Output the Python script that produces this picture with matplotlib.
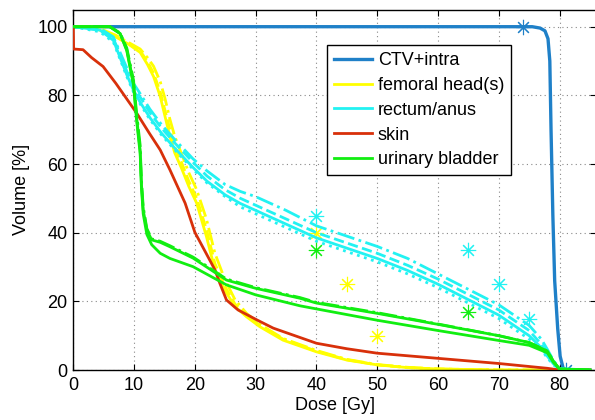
import numpy as np
import matplotlib
matplotlib.use("Agg")
import matplotlib.pyplot as plt

plt.rcParams['font.family'] = ['Liberation Sans', 'DejaVu Sans']

# CTV+intra
ctv_dose = [0, 75.5, 76.8, 77.6, 78.1, 78.4, 78.6, 78.9, 79.2, 79.7, 80.1, 80.6, 81, 85]
ctv_vol = [100, 100, 99.6, 98.8, 96.5, 90, 70, 45, 26, 12, 4, 0.5, 0, 0]
ctv_mark_dose = [74, 81]
ctv_mark_vol = [100, 0]

# femoral head(s)
fem_dose = [0, 3, 5, 7, 9, 11, 12.2, 13.2, 14.3, 15.1, 15.9, 16.7, 17.8, 19, 20.3,
            21.9, 23.3, 24.9, 26.6, 28.5, 30.7, 34.5, 40, 45, 50, 55, 60, 70, 85]
fem_vol_a = [100, 100, 98.5, 97, 95, 92.5, 89, 85.5, 79.7, 73.8, 68, 63.2, 58.8, 53.5, 48.6,
             38.9, 29.2, 23.3, 18.5, 15.5, 12.6, 8.7, 5.3, 2.9, 1.5, 0.7, 0.3, 0, 0]
fem_vol_b = [100, 100, 98.7, 97.2, 95.3, 93, 89.8, 86.5, 81, 75.5, 70, 65, 60.5, 55, 50,
             41, 31, 24.5, 19.2, 16, 13, 9, 5.5, 3, 1.5, 0.7, 0.3, 0, 0]
fem_vol_c = [100, 100, 99, 97.5, 95.5, 93.5, 91, 88.5, 84, 79, 73, 68, 63, 57.5, 52.5,
             44, 34, 26.5, 20.5, 16.5, 13.3, 9.2, 5.7, 3.1, 1.6, 0.8, 0.3, 0, 0]
fem_mark_dose = [40, 45, 50]
fem_mark_vol = [40, 25, 10]

# rectum/anus
rect_dose = [0, 4.4, 6.6, 7.7, 8.8, 9.9, 11, 12.6, 14.5, 16.5, 19.7, 22, 25, 27.5, 30,
             35, 40, 45, 50, 55, 60, 65, 70, 75, 77, 78, 79, 80, 85]
rect_vol_a = [100, 99, 96, 91, 86, 81.5, 78, 73.5, 69, 65, 59, 55, 51, 48.5, 46.5,
              42.5, 38.5, 35.5, 32.5, 29, 25, 20.5, 16, 10, 6.5, 4, 1.8, 0.2, 0]
rect_vol_b = [100, 99, 96.5, 92, 87, 82.5, 79.5, 75, 70.5, 66.5, 60.5, 56.5, 52.5, 50, 48,
              44, 40, 37, 34, 30.5, 26.5, 22, 17.5, 11.5, 7.5, 5, 2.2, 0.3, 0]
rect_vol_c = [100, 99.5, 97, 92.5, 88, 83.5, 80.5, 76, 71.5, 67.5, 61.5, 58, 54, 52, 50.5,
              46.5, 42, 39, 36, 32.5, 28, 23.5, 19, 13, 9, 6, 2.8, 0.4, 0]
rect_vol_d = [100, 98.5, 95.5, 90.5, 85.5, 81, 77.5, 73, 68.5, 64.5, 58.5, 54.5, 50.5, 47.5, 45.5,
              41.5, 37.5, 34.5, 31.5, 28, 24, 19.5, 15, 9, 6, 3.5, 1.5, 0.2, 0]
rect_mark_dose = [40, 65, 70, 75]
rect_mark_vol = [45, 35, 25, 15]

# skin
skin_dose = [0, 0.05, 1.6, 3, 4.9, 7, 10.4, 12.5, 14.3, 15.9, 18.4, 20, 21.7, 23.3, 24.1,
             25.2, 27.1, 30.2, 32.9, 35, 40, 45, 50, 60, 70, 78, 80, 85]
skin_vol = [100, 93.5, 93.3, 91, 88.4, 83.5, 74.9, 69, 64.1, 58.3, 48.6, 40.1, 34.5, 29.2, 25.3,
            20.4, 17.5, 14.6, 12.2, 10.9, 7.8, 6.2, 4.9, 3.4, 1.9, 0.5, 0, 0]

# urinary bladder
blad_dose = [0, 6, 7.7, 8.8, 9.9, 10.4, 11, 11.2, 11.5, 12.1, 12.9, 14.3, 15.9, 19.7, 25.2,
             30, 37.3, 40, 50, 60, 70, 75, 78, 79, 80, 85]
blad_vol_a = [100, 100, 98, 93.3, 83.6, 73.9, 64, 54.4, 46.6, 40.8, 37.9, 37.2, 35.9, 32.6, 26.2,
              23.8, 20.9, 19.5, 16.5, 13.3, 10, 8, 5.5, 2.5, 0.3, 0]
blad_vol_b = [100, 100, 98, 93, 83, 73, 63, 53.5, 45.5, 39.5, 36.5, 34, 32.5, 30.1, 24.8,
              21.9, 18.7, 17.8, 14.5, 11.5, 8.6, 7.2, 5, 2.2, 0.3, 0]
blad_vol_c = [100, 100, 98.2, 93.8, 84.5, 75, 65.5, 55.5, 47.5, 41.2, 38.2, 37.5, 36.2, 32.9, 26.5,
              24, 21.1, 19.7, 16.7, 13.4, 10, 8, 5.5, 2.5, 0.3, 0]
blad_mark_dose = [40, 65]
blad_mark_vol = [35, 17]

c_ctv = '#1f80c8'
c_fem = '#ffff00'
c_rect = '#22f2f2'
c_skin = '#d8300a'
c_blad = '#11ee11'

fig = plt.figure(figsize=(5.95, 4.2), dpi=100)
ax = fig.add_axes([0.1232, 0.119, 0.8785, 0.8583])

lw = 2.0
star = (8, 2, 0)
fs = 13

ax.plot(ctv_dose, ctv_vol, color=c_ctv, lw=2.4, label='CTV+intra')
ax.plot(ctv_mark_dose, ctv_mark_vol, ls='none', marker=star, ms=11, mec=c_ctv, mew=0.8)

ax.plot(fem_dose, fem_vol_a, color=c_fem, lw=lw, label='femoral head(s)')
ax.plot(fem_dose, fem_vol_b, color=c_fem, lw=lw, ls='--')
ax.plot(fem_dose, fem_vol_c, color=c_fem, lw=lw, ls='-.')
ax.plot(fem_mark_dose, fem_mark_vol, ls='none', marker=star, ms=11, mec=c_fem, mew=0.8)

ax.plot(rect_dose, rect_vol_a, color=c_rect, lw=lw, label='rectum/anus')
ax.plot(rect_dose, rect_vol_b, color=c_rect, lw=lw, ls='--')
ax.plot(rect_dose, rect_vol_c, color=c_rect, lw=lw, ls='-.')
ax.plot(rect_dose, rect_vol_d, color=c_rect, lw=lw, ls=':')
ax.plot(rect_mark_dose, rect_mark_vol, ls='none', marker=star, ms=11, mec=c_rect, mew=0.8)

ax.plot(skin_dose, skin_vol, color=c_skin, lw=lw, label='skin', zorder=3)

ax.plot(blad_dose, blad_vol_a, color=c_blad, lw=lw, label='urinary bladder', zorder=3)
ax.plot(blad_dose, blad_vol_b, color=c_blad, lw=lw, zorder=3)
ax.plot(blad_dose, blad_vol_c, color=c_blad, lw=lw, ls='-.', zorder=3)
ax.plot(blad_mark_dose, blad_mark_vol, ls='none', marker=star, ms=11, mec=c_blad, mew=0.8, zorder=3)

ax.set_xlim(0, 86)
ax.set_ylim(0, 105)
ax.set_xticks(np.arange(0, 81, 10))
ax.set_yticks(np.arange(0, 101, 20))
ax.tick_params(direction='in', top=True, right=True, length=4, width=0.8, labelsize=fs)
ax.tick_params(axis='x', pad=5)
ax.tick_params(axis='y', pad=4)
ax.grid(True, color='#888888', ls=(0, (1, 3)), lw=0.8)
for s in ax.spines.values():
    s.set_linewidth(1.0)

ax.set_xlabel('Dose [Gy]', fontsize=fs)
ax.set_ylabel('Volume [%]', fontsize=fs)
ax.xaxis.set_label_coords(0.5, -0.075)
ax.yaxis.set_label_coords(-0.082, 0.5)

leg = ax.legend(loc='upper left', bbox_to_anchor=(0.485, 0.901), borderaxespad=0,
                fontsize=fs, fancybox=False, framealpha=1, edgecolor='black',
                handlelength=2.1, handletextpad=0.33, labelspacing=0.43, borderpad=0.39)
leg.get_frame().set_linewidth(1.0)
leg.set_zorder(5)

fig.savefig('out.png', dpi=100)
